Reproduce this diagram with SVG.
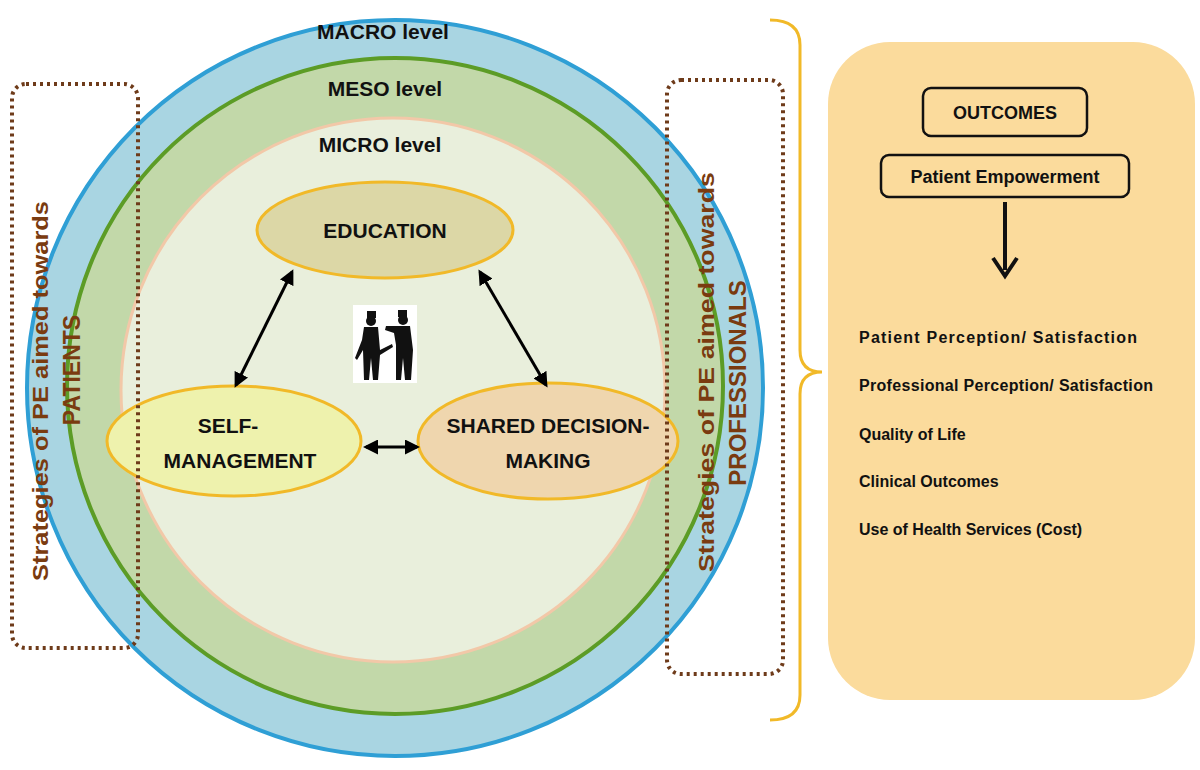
<svg xmlns="http://www.w3.org/2000/svg" width="1200" height="770" viewBox="0 0 1200 770">
<style>
text{font-family:"Liberation Sans",Arial,sans-serif;font-weight:bold;fill:#111}
.lvl{font-size:21px;text-anchor:middle}
.node{font-size:21px;text-anchor:middle}
.out{font-size:16px}
.side{font-size:22px;fill:#7a3b10;text-anchor:middle}
.dot{fill:none;stroke:#6e3b1a;stroke-width:4;stroke-dasharray:3 4}
.conn{stroke:#000;stroke-width:3;fill:none;marker-start:url(#ah);marker-end:url(#ah)}
</style>
<defs>
<marker id="ah" viewBox="0 0 10 10" refX="8" refY="5" markerWidth="5" markerHeight="5" orient="auto-start-reverse"><path d="M0,0 L10,5 L0,10 z" fill="#000"/></marker>
</defs>
<rect width="1200" height="770" fill="#fff"/>
<g id="macro"><circle cx="395" cy="388" r="368" fill="#a9d5e2" stroke="#2f9fd5" stroke-width="4"/><text class="lvl" x="383" y="39">MACRO level</text></g>
<g id="meso"><circle cx="395" cy="386" r="328" fill="#c2d8a9" stroke="#5c9c26" stroke-width="4"/><text class="lvl" x="385" y="96">MESO level</text></g>
<g id="micro"><circle cx="393" cy="390" r="272" fill="#e9efdc" stroke="#f2c8a8" stroke-width="3"/><text class="lvl" x="380" y="152">MICRO level</text></g>
<g id="education"><ellipse cx="385" cy="230" rx="128" ry="48" fill="#dcd7a6" stroke="#f1b928" stroke-width="3"/><text class="node" x="385" y="238">EDUCATION</text></g>
<g id="self"><ellipse cx="234" cy="441" rx="127" ry="55" fill="#eef2ad" stroke="#f1b928" stroke-width="3"/><text class="node" x="228" y="433">SELF-</text><text class="node" x="240" y="468">MANAGEMENT</text></g>
<g id="sdm"><ellipse cx="548" cy="441" rx="130" ry="58" fill="#efd6ae" stroke="#f1b928" stroke-width="3"/><text class="node" x="548" y="433">SHARED DECISION-</text><text class="node" x="548" y="468">MAKING</text></g>
<g id="figure">
<rect x="353" y="305" width="64" height="78" fill="#fff"/>
<g fill="#111">
<rect x="367" y="311" width="9" height="7"/><circle cx="371" cy="321" r="5"/>
<path d="M364,327 L378,327 L380,350 L392,344 L393,347 L380,355 L378,380 L373,380 L371,358 L369,380 L364,380 L363,350 L357,360 L355,358 L362,340 z"/>
<rect x="398" y="310" width="9" height="7"/><circle cx="403" cy="320" r="5"/>
<path d="M397,326 L410,326 L413,350 L411,380 L405,380 L403,358 L401,380 L396,380 L396,345 L394,333 L385,330 L386,326 z"/>
</g></g>
<g id="connectors">
<line class="conn" x1="292" y1="272" x2="236" y2="385"/>
<line class="conn" x1="480" y1="272" x2="546" y2="385"/>
<line class="conn" x1="366" y1="447" x2="417" y2="447"/>
</g>
<g id="patients"><rect class="dot" x="12" y="84" width="126" height="564" rx="14"/>
<text class="side" transform="translate(48 391) rotate(-90)" textLength="380" lengthAdjust="spacingAndGlyphs">Strategies of PE aimed towards</text>
<text class="side" transform="translate(80 370) rotate(-90)" style="font-size:23px">PATIENTS</text></g>
<g id="professionals"><rect class="dot" x="667" y="80" width="116" height="594" rx="14"/>
<text class="side" transform="translate(714 372) rotate(-90)" textLength="400" lengthAdjust="spacingAndGlyphs">Strategies of PE aimed towards</text>
<text class="side" transform="translate(746 383) rotate(-90)" style="font-size:24px">PROFESSIONALS</text></g>
<g id="bracket"><path d="M770,20 Q800,20 800,45 L800,350 Q800,372 822,372 Q800,372 800,394 L800,695 Q800,720 770,720" fill="none" stroke="#f1b928" stroke-width="3"/></g>
<g id="panel"><rect x="828" y="42" width="367" height="658" rx="62" fill="#fbdb9c"/>
<rect x="923" y="88" width="164" height="48" rx="8" fill="none" stroke="#111" stroke-width="2.5"/>
<text x="1005" y="119" style="font-size:18px;text-anchor:middle">OUTCOMES</text>
<rect x="881" y="155" width="248" height="42" rx="8" fill="none" stroke="#111" stroke-width="2.5"/>
<text x="1005" y="183" style="font-size:18px;text-anchor:middle">Patient Empowerment</text>
<line x1="1005" y1="202" x2="1005" y2="270" stroke="#111" stroke-width="4"/>
<path d="M993,258 L1005,276 L1017,258" fill="none" stroke="#111" stroke-width="4"/>
<text class="out" x="859" y="343" textLength="278" lengthAdjust="spacing">Patient  Perception/ Satisfaction</text>
<text class="out" x="859" y="391" textLength="294" lengthAdjust="spacing">Professional  Perception/ Satisfaction</text>
<text class="out" x="859" y="440">Quality of Life</text>
<text class="out" x="859" y="487">Clinical Outcomes</text>
<text class="out" x="859" y="535">Use of Health Services (Cost)</text>
</g>
</svg>
